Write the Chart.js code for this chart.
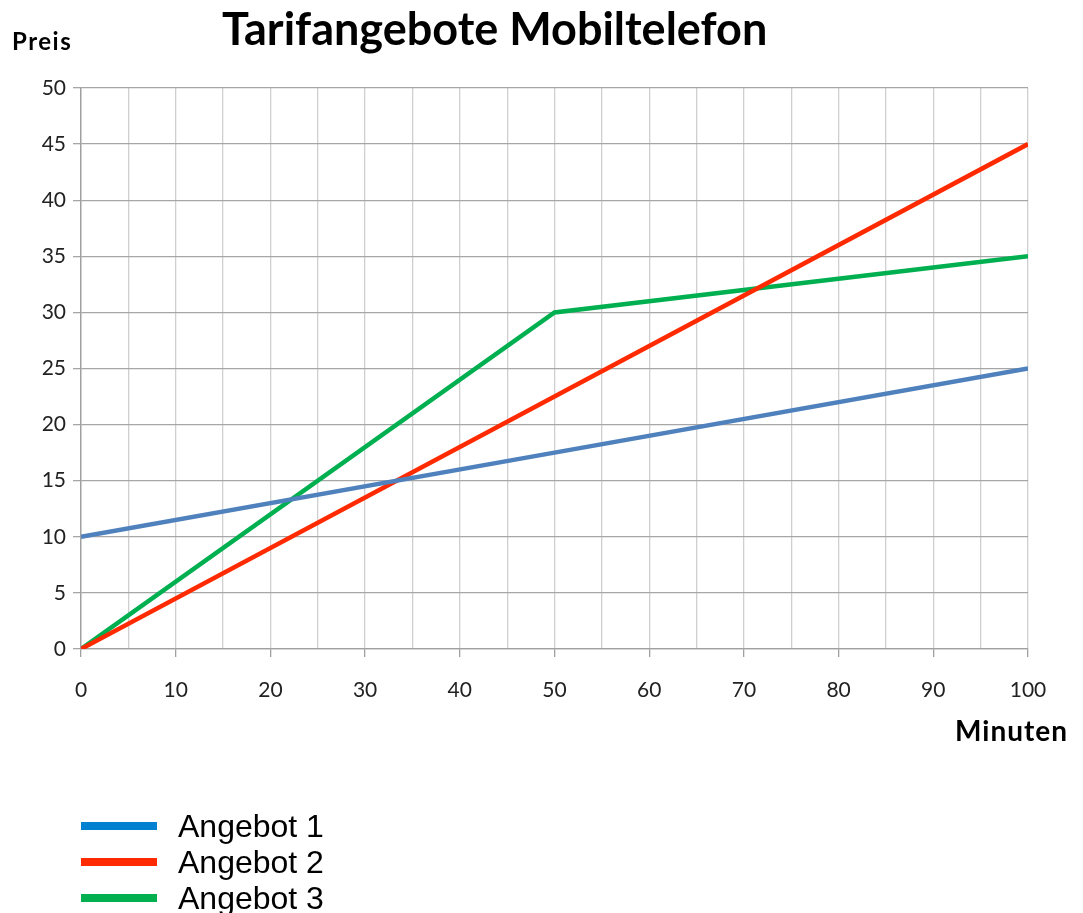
<!DOCTYPE html>
<html>
<head>
<meta charset="utf-8">
<script src="https://cdn.jsdelivr.net/npm/chart.js@4"></script>
<style>
  html, body { margin: 0; padding: 0; background: #fff; }
  #wrap { position: relative; width: 1083px; height: 913px; overflow: hidden; }
  #c { position: absolute; left: 0; top: 0; }
  .lbl { position: absolute; font-family: Lato, "Open Sans", sans-serif; font-weight: bold; color: #000; white-space: nowrap; }
  #title { left: 222px; top: 1px; font-size: 45px; }
  #ylab { left: 12px; top: 26px; font-size: 24px; letter-spacing: 1.5px; }
  #xlab { left: 955px; top: 713px; font-size: 28px; letter-spacing: 1px; }
  #legend { position: absolute; left: 81px; top: 808px; font-family: "Liberation Sans", Arial, sans-serif; font-size: 32px; color: #000; }
  .item { display: flex; align-items: center; height: 36px; }
  .sw { width: 76px; height: 8px; margin-right: 21px; }
</style>
</head>
<body>
<div id="wrap">
  <canvas id="c" width="1083" height="913"></canvas>
  <div class="lbl" id="title">Tarifangebote Mobiltelefon</div>
  <div class="lbl" id="ylab">Preis</div>
  <div class="lbl" id="xlab">Minuten</div>
  <div id="legend"></div>
</div>
<script>
const minutes = [0, 50, 100];
const angebot1 = [10, 17.5, 25];
const angebot2 = [0, 22.5, 45];
const angebot3 = [0, 30, 35];
const seriesNames = ['Angebot 1', 'Angebot 2', 'Angebot 3'];
const lineColors = ['#4f81bd', '#ff2a00', '#00b050'];
const legendColors = ['#0080d0', '#ff2a00', '#00b050'];
const xTicks = [0, 10, 20, 30, 40, 50, 60, 70, 80, 90, 100];
const yTicks = [0, 5, 10, 15, 20, 25, 30, 35, 40, 45, 50];

const allSeries = [angebot1, angebot2, angebot3];
const datasets = allSeries.map((vals, i) => ({
  label: seriesNames[i],
  data: minutes.map((m, k) => ({ x: m, y: vals[k] })),
  borderColor: lineColors[i],
  backgroundColor: lineColors[i],
  borderWidth: 4.5,
  pointRadius: 0,
  tension: 0,
  fill: false
}));

const tickFont = { family: 'Lato, "Open Sans", sans-serif', size: 21 };

new Chart(document.getElementById('c'), {
  type: 'line',
  data: { datasets },
  options: {
    responsive: false,
    animation: false,
    events: [],
    layout: { padding: { top: 88, right: 55, left: 0, bottom: 0 } },
    plugins: { legend: { display: false }, tooltip: { enabled: false }, title: { display: false } },
    scales: {
      x: {
        type: 'linear',
        min: 0, max: 100,
        afterFit: s => { s.height = 913 - 649; },
        ticks: {
          stepSize: 5,
          autoSkip: false,
          maxRotation: 0,
          padding: 21,
          color: '#222',
          font: tickFont,
          callback: v => (xTicks.includes(v) ? String(v) : '')
        },
        grid: {
          color: ctx => (ctx.tick && ctx.tick.value === 0 ? '#a0a0a0' : '#cfcfcf'),
          lineWidth: 1.3,
          tickLength: 8,
          tickColor: ctx => (ctx.tick && ctx.tick.value % 10 === 0 ? '#a0a0a0' : 'rgba(0,0,0,0)')
        },
        border: { color: '#a0a0a0', width: 1.3 }
      },
      y: {
        type: 'linear',
        min: 0, max: 50,
        afterFit: s => { s.width = 81; },
        ticks: {
          stepSize: 5,
          padding: 7,
          color: '#222',
          font: tickFont,
          callback: v => (yTicks.includes(v) ? String(v) : '')
        },
        grid: { color: '#a6a6a6', lineWidth: 1.3, tickLength: 8, tickColor: '#a6a6a6' },
        border: { color: '#a0a0a0', width: 1.3 }
      }
    }
  }
});

const leg = document.getElementById('legend');
seriesNames.forEach((n, i) => {
  const it = document.createElement('div');
  it.className = 'item';
  const sw = document.createElement('div');
  sw.className = 'sw';
  sw.style.background = legendColors[i];
  const t = document.createElement('span');
  t.textContent = n;
  it.appendChild(sw);
  it.appendChild(t);
  leg.appendChild(it);
});
</script>
</body>
</html>
